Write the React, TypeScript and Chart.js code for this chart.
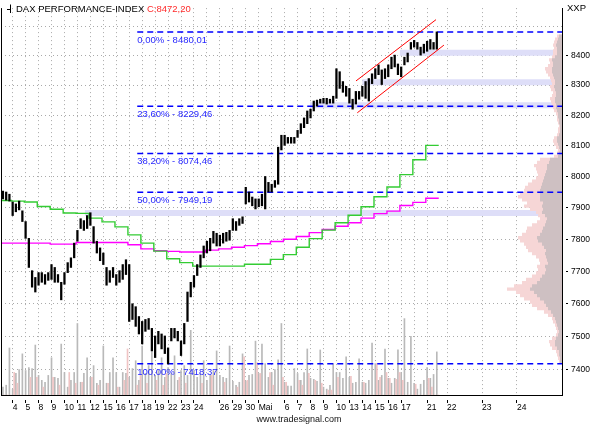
import React, { useEffect, useRef } from 'react';
import { Chart, registerables } from 'chart.js';

Chart.register(...registerables);

// ---------------- texts ----------------
const TITLE = 'DAX PERFORMANCE-INDEX';
const LAST_CLOSE = 'C:8472,20';
const SYMBOL = 'XXP';
const FOOTER = 'www.tradesignal.com';

// ---------------- x axis (trading days, 0 = 4 Apr) ----------------
const dayTickPos = [0, 1, 2, 3, 4, 5, 6, 7, 8, 9, 10, 11, 12, 13, 14, 15, 16, 17, 18, 19, 20, 21, 22, 23, 24, 25, 26, 27, 28, 29, 30, 31, 32, 33.54, 36.24, 38.94];
const dayTickLabels = ['4', '5', '8', '9', '10', '11', '12', '15', '16', '17', '18', '19', '22', '23', '24', '', '26', '29', '30', 'Mai', '', '6', '7', '8', '9', '10', '13', '14', '15', '16', '17', '', '21', '22', '23', '24'];
const X_MIN = -0.9;
const X_MAX = 42.417;

// ---------------- y axis (log) ----------------
const yTickValues = [7400, 7500, 7600, 7700, 7800, 7900, 8000, 8100, 8200, 8300, 8400, 8500];
const Y_MIN = 7325.6;
const Y_MAX = 8561.7;

// ---------------- price bars (4 per trading day, first at day -0.75) ----------------
const BAR_START = -0.75;
const BAR_STEP = 0.25;
const barHigh = [
  7953, 7950, 7943, 7918, 7912, 7921, 7890, 7856, 7803, 7702,
  7681, 7696, 7696, 7690, 7696, 7721, 7712, 7690, 7666, 7696,
  7727, 7742, 7788, 7828, 7865, 7859, 7875, 7884, 7840, 7794,
  7773, 7757, 7712, 7702, 7712, 7690, 7702, 7721, 7736, 7721,
  7600, 7591, 7561, 7546, 7552, 7555, 7525, 7502, 7516, 7508,
  7502, 7466, 7525, 7525, 7516, 7487, 7540, 7636, 7666, 7687,
  7721, 7751, 7779, 7794, 7803, 7825, 7819, 7813, 7819, 7822,
  7828, 7865, 7856, 7865, 7871, 7965, 7950, 7934, 7928, 7928,
  7943, 8000, 7981, 7975, 7987, 8095, 8134, 8134, 8127, 8127,
  8127, 8150, 8172, 8191, 8214, 8220, 8247, 8250, 8253, 8256,
  8256, 8253, 8263, 8355, 8345, 8312, 8296, 8289, 8253, 8279,
  8279, 8296, 8312, 8322, 8338, 8355, 8368, 8351, 8355, 8368,
  8394, 8401, 8371, 8361, 8394, 8408, 8444, 8451, 8444, 8428,
  8438, 8448, 8454, 8444, 8480,
];
const barLow = [
  7928, 7924, 7921, 7875, 7887, 7893, 7856, 7803, 7712, 7651,
  7636, 7657, 7666, 7660, 7672, 7675, 7666, 7666, 7612, 7660,
  7696, 7712, 7742, 7794, 7834, 7828, 7834, 7844, 7788, 7757,
  7733, 7721, 7657, 7666, 7681, 7657, 7666, 7675, 7690, 7546,
  7552, 7531, 7508, 7478, 7516, 7522, 7457, 7437, 7478, 7463,
  7449, 7418, 7487, 7496, 7487, 7443, 7478, 7546, 7621, 7651,
  7687, 7712, 7742, 7757, 7764, 7788, 7779, 7779, 7788, 7794,
  7797, 7828, 7828, 7844, 7850, 7912, 7918, 7906, 7896, 7903,
  7906, 7896, 7950, 7950, 7965, 7975, 8086, 8101, 8108, 8108,
  8108, 8127, 8140, 8159, 8172, 8191, 8214, 8230, 8240, 8240,
  8237, 8240, 8240, 8256, 8289, 8276, 8263, 8240, 8220, 8237,
  8253, 8263, 8256, 8247, 8305, 8322, 8335, 8302, 8322, 8328,
  8355, 8361, 8335, 8328, 8368, 8378, 8421, 8428, 8421, 8401,
  8408, 8414, 8421, 8421, 8421,
];

// ---------------- volume ----------------
const volumeGray = [
  8, 10, 48, 6, 22, 26, 42, 25, 28, 27,
  51, 20, 15, 13, 20, 38, 18, 17, 52, 23,
  8, 15, 23, 73, 13, 22, 38, 18, 30, 12,
  15, 50, 12, 23, 38, 23, 8, 23, 22, 18,
  27, 35, 15, 50, 22, 30, 48, 20, 25, 38,
  18, 28, 22, 40, 15, 25, 30, 20, 66, 25,
  18, 22, 35, 15, 20, 25, 45, 20, 18, 17,
  50, 14, 10, 13, 42, 14, 20, 21, 55, 22,
  52, 32, 18, 23, 26, 36, 73, 13, 9, 9,
  27, 22, 15, 23, 47, 17, 16, 14, 46, 8,
  6, 10, 32, 23, 23, 17, 39, 18, 12, 13,
  37, 13, 12, 15, 53, 32, 15, 20, 47, 17,
  12, 17, 46, 23, 78, 13, 60, 12, 6, 11,
  15, 28, 17, 21, 44,
];
const volumePink = [
  0, 0, 0, 23, 12, 0, 0, 0, 18, 0,
  18, 0, 8, 0, 0, 18, 0, 10, 0, 0,
  23, 0, 12, 0, 13, 0, 0, 18, 0, 10,
  0, 0, 12, 0, 0, 8, 0, 15, 47, 0,
  0, 10, 20, 0, 12, 0, 0, 15, 0, 10,
  22, 0, 0, 0, 18, 0, 12, 0, 0, 0,
  0, 12, 0, 0, 20, 0, 0, 0, 13, 0,
  0, 0, 8, 0, 39, 15, 0, 0, 33, 22,
  0, 0, 23, 10, 0, 0, 18, 13, 0, 0,
  0, 15, 10, 0, 22, 0, 15, 0, 12, 0,
  5, 5, 0, 18, 0, 0, 0, 19, 0, 0,
  0, 13, 0, 0, 0, 32, 18, 0, 23, 17,
  0, 16, 23, 15, 0, 0, 0, 11, 0, 0,
  0, 17, 8, 0, 0,
];

// ---------------- moving averages (one value per trading day, day -1 .. 32) ----------------
const maGreen = [
  7923, 7921, 7918, 7904, 7895, 7883, 7882, 7867, 7855, 7839,
  7814, 7788, 7763, 7739, 7727, 7716, 7716, 7716, 7716, 7722,
  7722, 7737, 7752, 7775, 7802, 7829, 7852, 7876, 7903, 7935,
  7966, 8006, 8054, 8101,
];
const maMagenta = [
  7788, 7788, 7788, 7788, 7785, 7785, 7790, 7790, 7790, 7790,
  7783, 7770, 7764, 7762, 7760, 7760, 7766, 7770, 7775, 7780,
  7786, 7793, 7800, 7809, 7821, 7831, 7841, 7852, 7867, 7881,
  7889, 7907, 7917, 7930,
];

// ---------------- Fibonacci retracement ----------------
const fibPercent = [0, 23.6, 38.2, 50, 100];
const fibLevel = [8480.01, 8229.46, 8074.46, 7949.19, 7418.37];
const FIB_START = 9.62;

// ---------------- support zones ----------------
const bandLevel = [7883, 8233, 8310, 8409];
const bandStart = [5.58, 22.96, 27.0, 29.9];

// ---------------- trend channel ----------------
const channelUpperX = [26.51, 32.69];
const channelUpperY = [8314, 8522];
const channelLowerX = [26.61, 33.3];
const channelLowerY = [8208, 8435];

// ---------------- volume profile (10-point bins from 7425) ----------------
const PROFILE_FIRST = 7425;
const PROFILE_STEP = 10;
const profilePink = [
  3, 4, 5, 6, 10, 12, 13, 10, 6, 5,
  6, 7, 9, 10, 14, 18, 25, 30, 32, 38,
  42, 46, 55, 48, 40, 36, 30, 26, 24, 25,
  22, 23, 26, 30, 34, 36, 38, 42, 44, 40,
  36, 35, 30, 25, 22, 24, 26, 32, 38, 35,
  40, 44, 42, 38, 37, 34, 30, 26, 24, 25,
  26, 28, 25, 22, 8, 5, 4, 6, 8, 9,
  8, 5, 4, 4, 3, 4, 5, 5, 6, 8,
  9, 10, 11, 12, 10, 9, 11, 12, 10, 11,
  12, 14, 16, 17, 14, 12, 13, 10, 9, 9,
  8, 9, 8, 7, 5,
];
const profileGray = [
  2, 2, 3, 3, 5, 7, 7, 6, 4, 3,
  4, 5, 6, 7, 9, 11, 14, 16, 18, 22,
  25, 28, 32, 30, 25, 22, 20, 17, 16, 17,
  14, 15, 16, 17, 16, 18, 20, 24, 25, 22,
  20, 19, 17, 16, 15, 17, 20, 19, 20, 19,
  22, 22, 22, 22, 21, 20, 19, 18, 17, 16,
  15, 15, 13, 12, 4, 3, 2, 3, 4, 5,
  5, 3, 2, 2, 2, 3, 3, 4, 4, 5,
  6, 6, 7, 7, 6, 6, 7, 8, 7, 7,
  8, 9, 10, 10, 9, 9, 10, 7, 5, 5,
  5, 6, 5, 4, 3,
];

const FONT = "'Liberation Sans', Arial, sans-serif";
const fmt = (n: number) => n.toFixed(2).replace('.', ',');

const maPoints = (arr: number[]) =>
  arr
    .map((v, k) => ({ x: k === 0 ? X_MIN : k - 1 - 0.1, y: v }))
    .concat([{ x: arr.length - 2 + 0.9, y: arr[arr.length - 1] }]);

const profilePoints = (arr: number[]) =>
  arr.flatMap((len, k) => {
    const p = PROFILE_FIRST + PROFILE_STEP * k;
    return [
      { x: 0, y: p },
      { x: len, y: p },
      { x: null as any, y: null as any },
    ];
  });

const invisibleAxis = {
  display: true,
  ticks: { display: false },
  grid: { display: false, drawTicks: false },
  border: { display: false },
};

const overlayPlugin = {
  id: 'overlayTexts',
  afterDraw(chart: any) {
    const { ctx, chartArea, scales } = chart;
    ctx.save();
    // left frame
    ctx.strokeStyle = '#000';
    ctx.lineWidth = 1;
    ctx.beginPath();
    const lx = Math.round(chartArea.left) + 0.5;
    ctx.moveTo(lx, chartArea.top);
    ctx.lineTo(lx, chartArea.bottom);
    ctx.stroke();
    // little bar icon
    ctx.beginPath();
    ctx.moveTo(10.5, 4.5);
    ctx.lineTo(10.5, 13);
    ctx.moveTo(7, 9.5);
    ctx.lineTo(10.5, 9.5);
    ctx.stroke();
    // title
    ctx.font = `9.5px ${FONT}`;
    ctx.textBaseline = 'alphabetic';
    ctx.textAlign = 'left';
    ctx.fillStyle = '#000';
    const t = TITLE + ' ';
    ctx.fillText(t, 16, 11.5);
    ctx.fillStyle = '#ff2a2a';
    ctx.fillText(LAST_CLOSE, 16 + ctx.measureText(t).width, 11.5);
    // symbol
    ctx.fillStyle = '#000';
    ctx.fillText(SYMBOL, 567, 10.5);
    // fib labels
    ctx.fillStyle = 'rgb(40,40,255)';
    const fx = scales.x.getPixelForValue(FIB_START);
    fibLevel.forEach((lvl, k) => {
      const y = scales.y.getPixelForValue(lvl);
      ctx.fillText(`${fmt(fibPercent[k])}% - ${fmt(lvl)}`, fx, y + 11);
    });
    // footer
    ctx.fillStyle = '#111';
    ctx.font = `9px ${FONT}`;
    ctx.textAlign = 'center';
    ctx.fillText(FOOTER, 299, 422);
    ctx.restore();
  },
};

export default function App() {
  const ref = useRef<HTMLCanvasElement | null>(null);

  useEffect(() => {
    document.body.style.margin = '0';
    const canvas = ref.current;
    if (!canvas) return;

    const datasets: any[] = [];

    // support zones
    bandLevel.forEach((lvl, k) => {
      datasets.push({
        type: 'line',
        data: [
          { x: bandStart[k], y: lvl },
          { x: X_MAX, y: lvl },
        ],
        xAxisID: 'x',
        yAxisID: 'y',
        borderColor: 'rgb(222,222,248)',
        borderWidth: 6,
        borderCapStyle: 'butt',
        pointRadius: 0,
        order: 20,
      });
    });

    // volume profile
    datasets.push({
      type: 'line',
      data: profilePoints(profilePink),
      xAxisID: 'xp',
      yAxisID: 'y',
      borderColor: 'rgb(246,214,214)',
      borderWidth: 3.4,
      borderCapStyle: 'butt',
      pointRadius: 0,
      spanGaps: false,
      order: 15,
    });
    datasets.push({
      type: 'line',
      data: profilePoints(profileGray),
      xAxisID: 'xp',
      yAxisID: 'y',
      borderColor: 'rgb(206,192,194)',
      borderWidth: 3.4,
      borderCapStyle: 'butt',
      pointRadius: 0,
      spanGaps: false,
      order: 14,
    });

    // volume
    datasets.push({
      type: 'bar',
      data: volumeGray.map((v, i) => ({ x: BAR_START + BAR_STEP * i, y: v })),
      xAxisID: 'x',
      yAxisID: 'yv',
      backgroundColor: '#b9b9b9',
      barThickness: 1,
      grouped: false,
      order: 12,
    });
    datasets.push({
      type: 'bar',
      data: volumePink.map((v, i) => ({ x: BAR_START + BAR_STEP * i + 0.12, y: v })),
      xAxisID: 'x',
      yAxisID: 'yv',
      backgroundColor: '#f0c4c4',
      barThickness: 1,
      grouped: false,
      order: 11,
    });

    // moving averages
    datasets.push({
      type: 'line',
      data: maPoints(maMagenta),
      xAxisID: 'x',
      yAxisID: 'y',
      borderColor: '#ff00ff',
      borderWidth: 1.4,
      stepped: 'before',
      pointRadius: 0,
      order: 8,
    });
    datasets.push({
      type: 'line',
      data: maPoints(maGreen),
      xAxisID: 'x',
      yAxisID: 'y',
      borderColor: '#33cc33',
      borderWidth: 1.4,
      stepped: 'before',
      pointRadius: 0,
      order: 7,
    });

    // fibonacci lines
    fibLevel.forEach((lvl) => {
      datasets.push({
        type: 'line',
        data: [
          { x: FIB_START, y: lvl },
          { x: X_MAX, y: lvl },
        ],
        xAxisID: 'x',
        yAxisID: 'y',
        borderColor: '#0000ff',
        borderWidth: 1.5,
        borderDash: [6, 4],
        pointRadius: 0,
        order: 5,
      });
    });

    // price bars
    datasets.push({
      type: 'bar',
      data: barHigh.map((h, i) => ({ x: BAR_START + BAR_STEP * i, y: [barLow[i], h] })),
      xAxisID: 'x',
      yAxisID: 'y',
      backgroundColor: '#000',
      barThickness: 1.6,
      grouped: false,
      order: 3,
    });

    // channel
    datasets.push({
      type: 'line',
      data: channelUpperX.map((x, k) => ({ x, y: channelUpperY[k] })),
      xAxisID: 'x',
      yAxisID: 'y',
      borderColor: '#ff0000',
      borderWidth: 1,
      pointRadius: 0,
      order: 2,
    });
    datasets.push({
      type: 'line',
      data: channelLowerX.map((x, k) => ({ x, y: channelLowerY[k] })),
      xAxisID: 'x',
      yAxisID: 'y',
      borderColor: '#ff0000',
      borderWidth: 1,
      pointRadius: 0,
      order: 2,
    });

    const chart = new Chart(canvas, {
      type: 'bar',
      data: { datasets },
      options: {
        animation: false,
        responsive: false,
        events: [],
        layout: { padding: { left: 1, top: 0, right: 0, bottom: 0 } },
        plugins: {
          legend: { display: false },
          tooltip: { enabled: false },
          title: { display: false },
        },
        scales: {
          x: {
            type: 'linear',
            position: 'bottom',
            min: X_MIN,
            max: X_MAX,
            offset: false,
            afterBuildTicks: (s: any) => {
              s.ticks = dayTickPos.map((v) => ({ value: v }));
            },
            afterFit: (s: any) => {
              s.height = 30;
            },
            ticks: {
              autoSkip: false,
              maxRotation: 0,
              minRotation: 0,
              align: 'start',
              padding: 0,
              color: '#000',
              font: { family: FONT, size: 8.5 },
              callback: (_v: any, i: number) => dayTickLabels[i],
            },
            grid: {
              offset: false,
              color: '#aaaaaa',
              lineWidth: 1,
              drawTicks: true,
              tickLength: 8,
              tickWidth: 1,
              tickBorderDash: [0, 4, 4, 20],
              tickColor: (c: any) => (dayTickLabels[c.index] ? '#000' : 'rgba(0,0,0,0)'),
            },
            border: { display: true, color: '#000', width: 1, dash: [1, 3] },
          },
          xp: {
            ...invisibleAxis,
            type: 'linear',
            position: 'bottom',
            reverse: true,
            offset: false,
            min: 0,
            max: 561,
            afterFit: (s: any) => {
              s.height = 0;
            },
          },
          y: {
            type: 'logarithmic',
            position: 'right',
            min: Y_MIN,
            max: Y_MAX,
            afterBuildTicks: (s: any) => {
              s.ticks = yTickValues.map((v) => ({ value: v }));
            },
            afterFit: (s: any) => {
              s.width = 38;
            },
            ticks: {
              autoSkip: false,
              padding: 3,
              color: '#000',
              font: { family: FONT, size: 8.5 },
              callback: (v: any) => (v >= 8500 ? '' : String(v)),
            },
            grid: {
              color: '#aaaaaa',
              lineWidth: 1,
              tickLength: 6,
              tickWidth: 1,
              tickBorderDash: [0, 3, 3, 20],
              tickColor: (c: any) => (c.tick && c.tick.value >= 8500 ? 'rgba(0,0,0,0)' : '#000'),
            },
            border: { display: true, color: '#000', width: 1, dash: [1, 3] },
          },
          yv: {
            ...invisibleAxis,
            type: 'linear',
            position: 'left',
            min: 0,
            max: 395,
            afterFit: (s: any) => {
              s.width = 0;
            },
          },
        },
      } as any,
      plugins: [overlayPlugin],
    } as any);

    return () => chart.destroy();
  }, []);

  return (
    <div style={{ width: 600, height: 425 }}>
      <canvas ref={ref} width={600} height={425} style={{ display: 'block' }} />
    </div>
  );
}
